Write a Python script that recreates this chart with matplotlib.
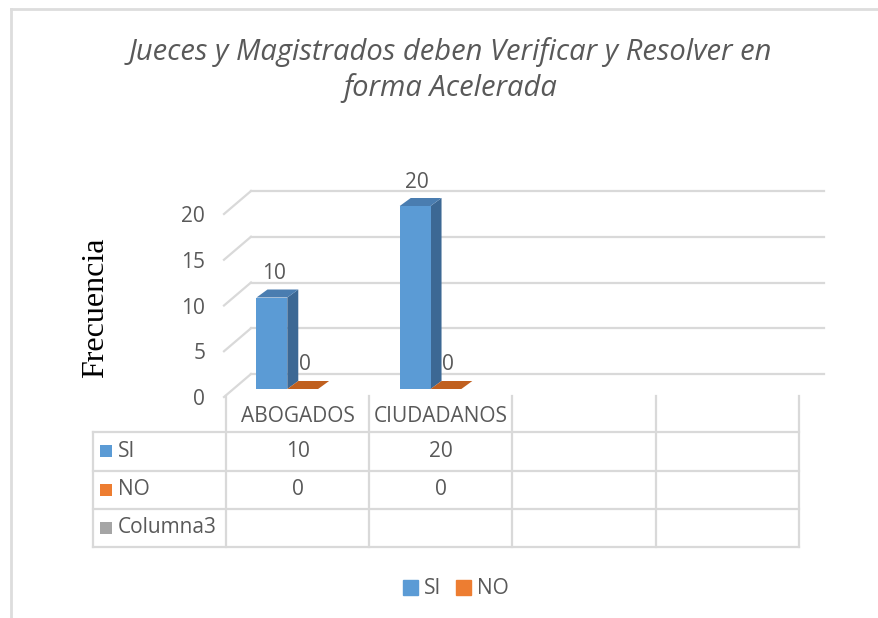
import matplotlib
matplotlib.use("Agg")
import matplotlib.pyplot as plt
import matplotlib.transforms as mtransforms
from matplotlib.patches import Polygon, Patch
from matplotlib.lines import Line2D

# data
categories = ["ABOGADOS", "CIUDADANOS", "", ""]
series_names = ["SI", "NO", "Columna3"]
si_values = [10, 20]
no_values = [0, 0]
yticks = [0, 5, 10, 15, 20]
title_lines = ["Jueces y Magistrados deben Verificar y Resolver en", "forma Acelerada"]

plt.rcParams['font.family'] = ['Open Sans', 'DejaVu Sans']
txt_col = '#595959'
grid_col = '#D9D9D9'
blue = '#5B9BD5'
blue_side = '#3C6894'
blue_top = '#4A7DB0'
orange = '#ED7D31'
orange_top = '#C0601F'
gray = '#A5A5A5'
fs = 15

W, H = 879, 618
fig = plt.figure(figsize=(W / 100, H / 100), dpi=100)

def px(x0, y0, x1, y1):
    # pixel box (top-left origin) -> figure fraction rect
    return [x0 / W, 1 - y1 / H, (x1 - x0) / W, (y1 - y0) / H]

# chart border (only top and left visible)
fig.add_artist(Line2D([11 / W, 11 / W], [0, 1 - 9 / H], color='#DDDDDD', lw=2))
fig.add_artist(Line2D([11 / W, 1], [1 - 9 / H, 1 - 9 / H], color='#DDDDDD', lw=2))

ax = fig.add_axes(px(226, 214, 799, 397))
ax.set_xlim(0, len(categories))
ax.set_ylim(0, 20)
for s in ax.spines.values():
    s.set_visible(False)
ax.set_xticks([])
ax.set_yticks(yticks)
ax.tick_params(axis='y', length=0, pad=15, labelsize=fs, labelcolor=txt_col)
ax.patch.set_alpha(0)

def shift(dx, dy):
    return ax.transData + mtransforms.ScaledTranslation(dx / 100, dy / 100, fig.dpi_scale_trans)

back = shift(25, 23)
front_face = shift(9, 8)
rear_face = shift(20, 16)

# back wall grid + side diagonals
for v in yticks:
    ax.plot([0, len(categories)], [v, v], color=grid_col, lw=1.6, transform=back, clip_on=False, zorder=1)
    p0 = ax.transData.transform((0, v))
    p1 = back.transform((0, v))
    inv = ax.transData.inverted()
    a = inv.transform(p0 + [-2, 0])
    b = inv.transform(p1)
    ax.plot([a[0], b[0]], [a[1], b[1]], color=grid_col, lw=1.6, clip_on=False, zorder=1)

bar_w = 0.215
def bar3d(x0, val, face, side, top):
    inv = ax.transData.inverted()
    def pts(tr, coords):
        return [inv.transform(tr.transform(c)) for c in coords]
    f = pts(front_face, [(x0, 0), (x0 + bar_w, 0), (x0 + bar_w, val), (x0, val)])
    r = pts(rear_face, [(x0, 0), (x0 + bar_w, 0), (x0 + bar_w, val), (x0, val)])
    if val > 0:
        ax.add_patch(Polygon([f[1], r[1], r[2], f[2]], closed=True, fc=side, ec='none', clip_on=False, zorder=3))
        ax.add_patch(Polygon(f, closed=True, fc=face, ec='none', clip_on=False, zorder=4))
    ax.add_patch(Polygon([f[3], f[2], r[2], r[3]], closed=True, fc=top, ec='none', clip_on=False, zorder=4))

for i, v in enumerate(si_values):
    x0 = i + 0.15
    bar3d(x0, v, blue, blue_side, blue_top)
    ax.text(x0 + bar_w / 2, v, str(v), transform=shift(11, 32), ha='center', va='center',
            fontsize=fs, color=txt_col, clip_on=False)
for i, v in enumerate(no_values):
    x0 = i + 0.15 + bar_w
    bar3d(x0, v, orange, orange_top, orange_top)
    ax.text(x0 + bar_w / 2, v, str(v), transform=shift(11, 32), ha='center', va='center',
            fontsize=fs, color=txt_col, clip_on=False)

# y label
fig.text(96 / W, 1 - 308 / H, 'Frecuencia', rotation=90, ha='center', va='center',
         fontsize=23, family=['Liberation Serif', 'DejaVu Serif'], color='black')

# title
fig.text(450 / W, 1 - 52 / H, title_lines[0], ha='center', va='center', fontsize=21,
         style='italic', color=txt_col)
fig.text(450 / W, 1 - 88 / H, title_lines[1], ha='center', va='center', fontsize=21,
         style='italic', color=txt_col)

# data table
tab = fig.add_axes(px(93, 396, 799, 547))
left = (93 - 226) / 143.25
tab.set_xlim(left, len(categories))
tab.set_ylim(3, -0.95)
tab.axis('off')
for r in range(4):
    tab.plot([left, len(categories)], [r, r], color=grid_col, lw=1.6, clip_on=False)
tab.plot([left, left], [0, 3], color=grid_col, lw=1.6, clip_on=False)
for c in range(len(categories) + 1):
    tab.plot([c, c], [-0.95, 3], color=grid_col, lw=1.6, clip_on=False)
for i, name in enumerate(categories):
    tab.text(i + 0.5, -0.42, name, ha='center', va='center', fontsize=fs, color=txt_col)
row_vals = [si_values, no_values, []]
row_cols = [blue, orange, gray]
for r, name in enumerate(series_names):
    tab.plot([left + 13 / 143.25], [r + 0.5], marker='s', ms=9, color=row_cols[r], mew=0)
    tab.text(left + 25 / 143.25, r + 0.5, name, ha='left', va='center', fontsize=fs, color=txt_col)
    for i, v in enumerate(row_vals[r]):
        tab.text(i + 0.5, r + 0.5, str(v), ha='center', va='center', fontsize=fs, color=txt_col)

# legend
handles = [Patch(color=blue, label='SI'), Patch(color=orange, label='NO')]
fig.legend(handles=handles, loc='center', bbox_to_anchor=(456 / W, 1 - 589 / H), ncol=2,
           frameon=False, handlelength=0.7, handleheight=0.7, handletextpad=0.3,
           columnspacing=0.7, fontsize=fs, labelcolor=txt_col)

fig.savefig('out.png', dpi=100)
